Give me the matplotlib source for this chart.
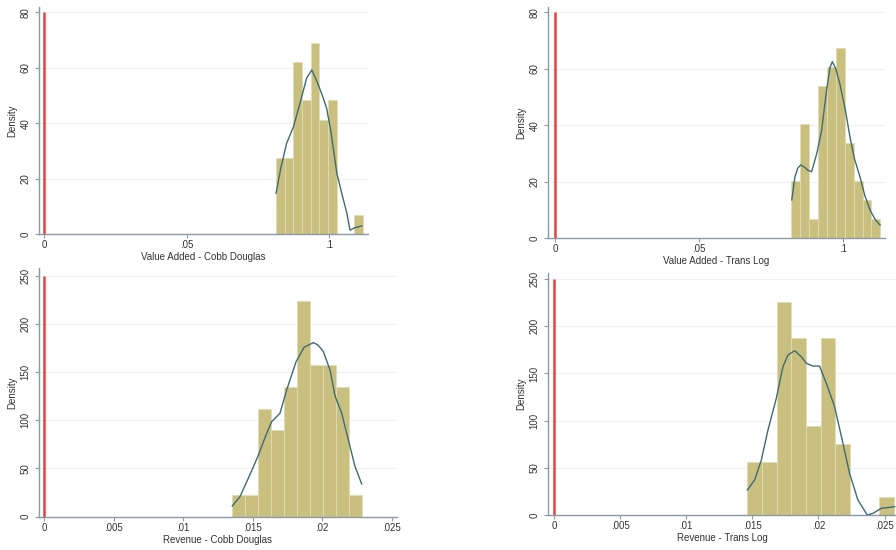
import matplotlib.pyplot as plt
import numpy as np

plt.rcParams['font.family'] = ['Liberation Sans', 'DejaVu Sans']

# histogram bin edges and densities
va_cd_edges = [0.0813, 0.0843, 0.0874, 0.0904, 0.0934, 0.0964, 0.0995, 0.1025, 0.1055, 0.1085, 0.1116]
va_cd_dens = [27.5, 27.5, 62.0, 48.2, 68.9, 41.3, 48.2, 0, 0, 6.9]
va_cd_kx = [0.0813, 0.0830, 0.0850, 0.0874, 0.0891, 0.0903, 0.0920, 0.0938, 0.0950, 0.0961,
            0.0975, 0.0990, 0.1005, 0.1026, 0.1043, 0.1061, 0.1072, 0.1090, 0.1113]
va_cd_ky = [14.7, 24.0, 32.7, 38.7, 45.0, 49.6, 56.2, 59.2, 56.5, 53.8,
            50.0, 45.4, 37.0, 21.9, 14.7, 7.5, 1.4, 2.3, 2.9]

va_tl_edges = [0.0820, 0.0851, 0.0882, 0.0913, 0.0944, 0.0975, 0.1006, 0.1037, 0.1068, 0.1098, 0.1129]
va_tl_dens = [20.2, 40.4, 6.7, 53.9, 60.6, 67.3, 33.7, 20.2, 13.5, 6.7]
va_tl_kx = [0.0822, 0.0833, 0.0843, 0.0853, 0.0865, 0.0878, 0.0891, 0.0909, 0.0926, 0.0943,
            0.0955, 0.0963, 0.0975, 0.0990, 0.1008, 0.1024, 0.1040, 0.1059, 0.1076, 0.1094, 0.1112, 0.1129]
va_tl_ky = [13.5, 21.7, 24.8, 25.9, 25.2, 24.0, 23.5, 30.0, 38.3, 52.5,
            60.5, 62.5, 60.0, 54.2, 45.5, 35.9, 28.0, 21.7, 15.0, 9.9, 6.5, 4.6]

rv_cd_edges = [0.01353, 0.01446, 0.01539, 0.01632, 0.01725, 0.01819, 0.01912, 0.02005, 0.02098, 0.02191, 0.02284]
rv_cd_dens = [22.4, 22.4, 112.0, 89.5, 134.0, 224.0, 157.0, 157.0, 134.0, 22.4]
rv_cd_kx = [0.01353, 0.01408, 0.01468, 0.01536, 0.01600, 0.01636, 0.01696, 0.01744, 0.01812, 0.01869,
            0.01936, 0.01970, 0.02008, 0.02056, 0.02092, 0.02140, 0.02188, 0.02236, 0.02284]
rv_cd_ky = [11.1, 20.7, 39.8, 62.2, 86.4, 98.6, 107.2, 131.4, 160.8, 175.6,
            180.5, 178.0, 171.2, 152.1, 125.2, 107.2, 79.5, 51.9, 33.9]

rv_tl_edges = [0.01462, 0.01573, 0.01684, 0.01795, 0.01906, 0.02017, 0.02127, 0.02238, 0.02349, 0.02460, 0.02571]
rv_tl_dens = [56.4, 56.4, 225.5, 187.9, 94.0, 187.9, 75.2, 0, 0, 18.8]
rv_tl_kx = [0.01462, 0.01517, 0.01568, 0.01618, 0.01681, 0.01731, 0.01769, 0.01820, 0.01870, 0.01908,
            0.01958, 0.02008, 0.02059, 0.02122, 0.02185, 0.02235, 0.02298, 0.02369, 0.02412, 0.02475, 0.02576]
rv_tl_ky = [26.5, 37.1, 58.3, 90.0, 123.6, 157.1, 169.5, 174.1, 167.7, 160.7,
            157.8, 157.8, 139.5, 114.8, 75.9, 44.1, 15.9, 0.0, 1.8, 7.1, 8.8]

labels = ['Value Added - Cobb Douglas', 'Value Added - Trans Log',
          'Revenue - Cobb Douglas', 'Revenue - Trans Log']
va_xticks = [0, 0.05, 0.1]
va_xlabels = ['0', '.05', '.1']
rv_xticks = [0, 0.005, 0.01, 0.015, 0.02, 0.025]
rv_xlabels = ['0', '.005', '.01', '.015', '.02', '.025']
va_yticks = [0, 20, 40, 60, 80]
rv_yticks = [0, 50, 100, 150, 200, 250]
ref_x = 0

bar_col = '#c9c07f'
kde_col = '#3f6b72'
axis_col = '#8e99a6'

fig = plt.figure(figsize=(8.96, 5.5), dpi=100)

panels = [
    ([0.0435, 0.5745, 0.3672, 0.4133], va_cd_edges, va_cd_dens, va_cd_kx, va_cd_ky,
     va_xticks, va_xlabels, va_yticks, (-0.00175, 0.1135), (0, 82)),
    ([0.6116, 0.5673, 0.3758, 0.4195], va_tl_edges, va_tl_dens, va_tl_kx, va_tl_ky,
     va_xticks, va_xlabels, va_yticks, (-0.00254, 0.1145), (0, 81.8)),
    ([0.0435, 0.0606, 0.3996, 0.4516], rv_cd_edges, rv_cd_dens, rv_cd_kx, rv_cd_ky,
     rv_xticks, rv_xlabels, rv_yticks, (-0.00038, 0.02538), (0, 257.6)),
    ([0.6116, 0.0636, 0.3884, 0.4405], rv_tl_edges, rv_tl_dens, rv_tl_kx, rv_tl_ky,
     rv_xticks, rv_xlabels, rv_yticks, (-0.00045, 0.02586), (0, 256.7)),
]

for i, (rect, edges, dens, kx, ky, xt, xl, yt, xlim, ylim) in enumerate(panels):
    ax = fig.add_axes(rect)
    edges = np.array(edges)
    ax.bar(edges[:-1], dens, width=np.diff(edges), align='edge',
           color=bar_col, edgecolor='#e2dcb4', linewidth=0.6, zorder=2)
    ax.plot(kx, ky, color=kde_col, lw=1.0, zorder=3)
    ax.vlines(ref_x, 0, yt[-1], color='#e8403f', lw=1.8, zorder=4)

    ax.set_xlim(xlim)
    ax.set_ylim(ylim)
    ax.set_xticks(xt)
    ax.set_xticklabels(xl)
    ax.set_yticks(yt)
    ax.set_yticklabels([str(v) for v in yt])
    ax.grid(axis='y', color='#eef1f1', lw=0.8, zorder=0)
    ax.set_axisbelow(True)

    for s in ['top', 'right']:
        ax.spines[s].set_visible(False)
    for s in ['left', 'bottom']:
        ax.spines[s].set_color(axis_col)
        ax.spines[s].set_linewidth(1.0)
    ax.tick_params(axis='both', colors=axis_col, labelcolor='#333333',
                   labelsize=7, length=3, width=0.8)
    ax.tick_params(axis='x', pad=1.5)
    ax.tick_params(axis='y', labelrotation=90, pad=3)
    for t in ax.get_yticklabels():
        t.set_va('center')

    ax.set_xlabel(labels[i], fontsize=7, color='#333333', labelpad=1.5)
    ax.set_ylabel('Density', fontsize=7, color='#333333', labelpad=2.5)

fig.savefig('out.png', dpi=100)
